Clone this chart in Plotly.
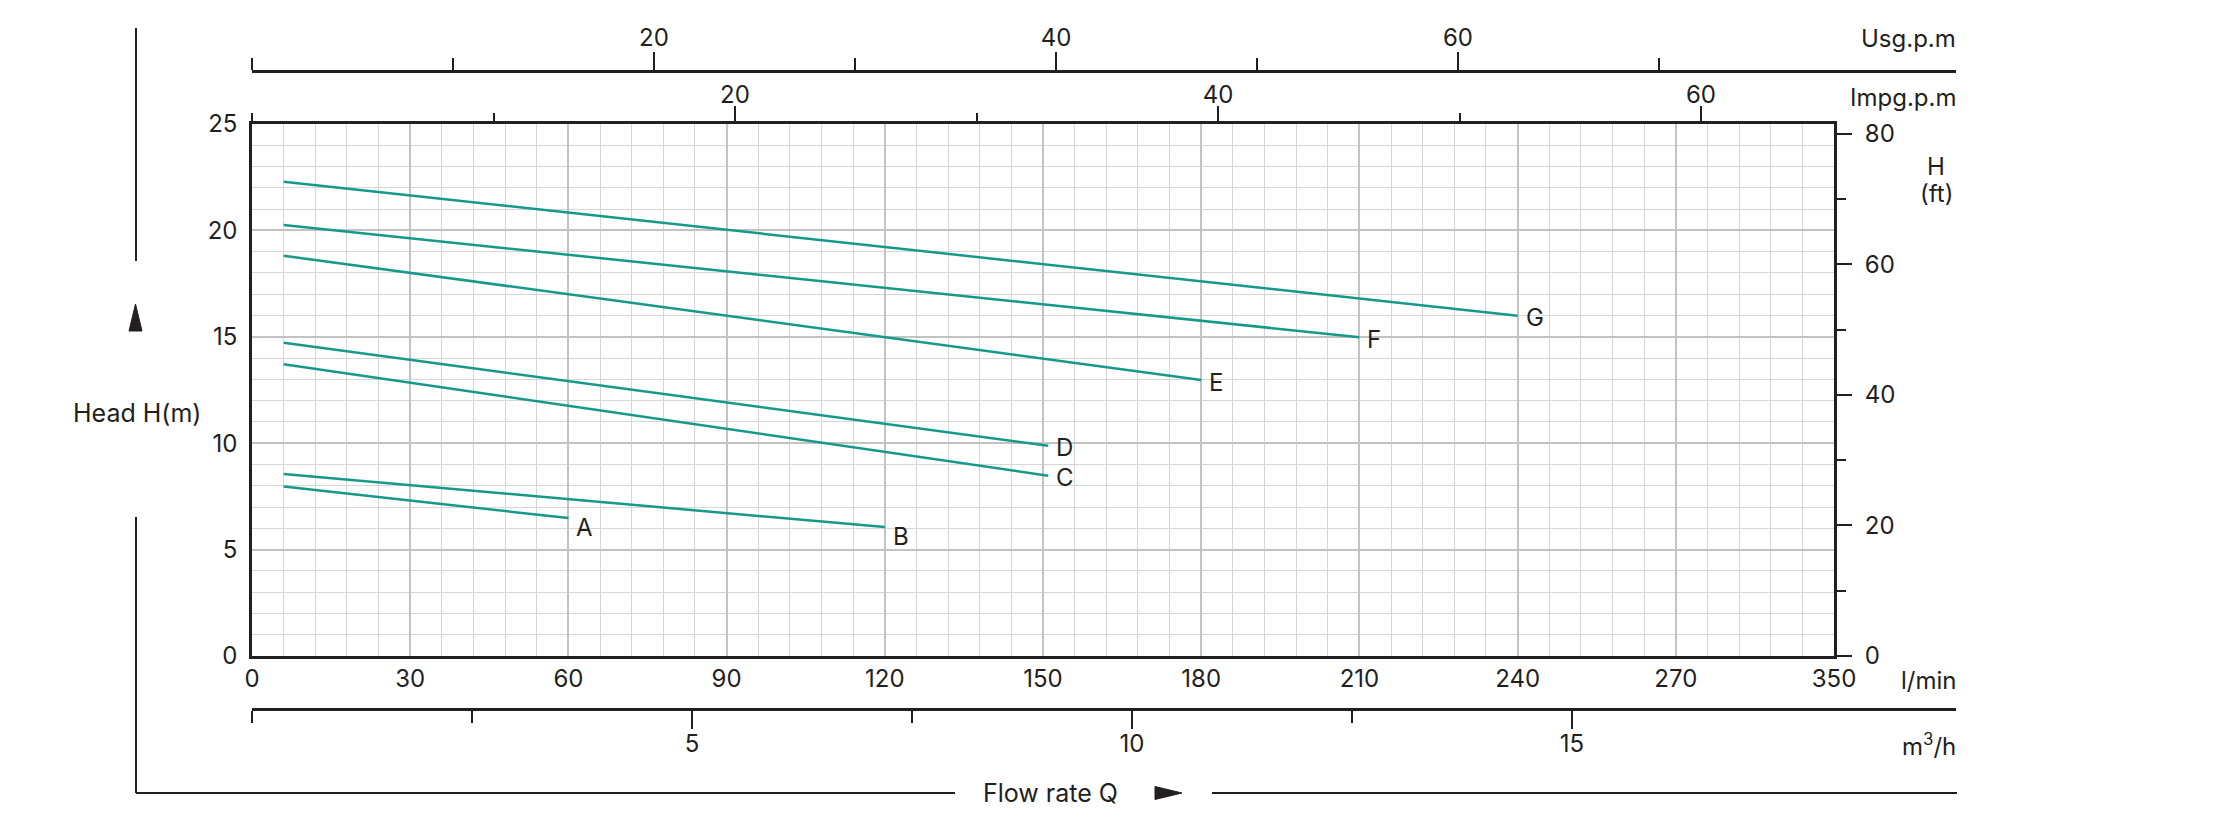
import plotly.graph_objects as go

# ---------------- data ----------------
curve_names = ["A", "B", "C", "D", "E", "F", "G"]
flow_lmin = [
    [6, 60],
    [6, 120],
    [6, 151],
    [6, 151],
    [6, 180],
    [6, 210],
    [6, 240],
]
head_m = [
    [7.97, 6.48],
    [8.55, 6.06],
    [13.71, 8.47],
    [14.72, 9.88],
    [18.81, 12.97],
    [20.25, 14.98],
    [22.29, 15.99],
]

lmin_tickvals = [0, 30, 60, 90, 120, 150, 180, 210, 240, 270, 300]
lmin_ticktext = ["0", "30", "60", "90", "120", "150", "180", "210", "240", "270", "350"]
head_tickvals = [0, 5, 10, 15, 20, 25]
ft_major = [0, 20, 40, 60, 80]
ft_minor = [10, 30, 50, 70]
impg_major = [20, 40, 60]
impg_minor = [0, 10, 30, 50]
usg_major = [20, 40, 60]
usg_minor = [0, 10, 30, 50, 70]
m3h_major = [5, 10, 15]
m3h_minor = [0, 2.5, 7.5, 12.5]

# label vertical offsets (style, px)
label_dy = [-9, -9, -2, -2, -2, -2, -2]

# ---------------- layout geometry (window pixels) ----------------
OFF = 8                      # page body margin
W, H = 2231 - OFF, 823 - OFF
PX0, PX1 = 252, 1956         # paper left/right (window px)
PY0, PY1 = 71, 709           # paper top/bottom (window px)
PLOT_R = 1834
PLOT_T, PLOT_B = 124, 656


def px(x):
    return (x - PX0) / (PX1 - PX0)


def py(y):
    return (PY1 - y) / (PY1 - PY0)


BLACK = "#231f20"
TEAL = "#15998b"
GRID_MAJ = "#c3c3c3"
GRID_MIN = "#d6d6d6"
FONT = "Inter, Liberation Sans, Arial, sans-serif"
FS = 24

fig = go.Figure()

for name, xs, ys, dy in zip(curve_names, flow_lmin, head_m, label_dy):
    fig.add_trace(go.Scatter(x=xs, y=ys, mode="lines",
                             line=dict(color=TEAL, width=2.5),
                             name=name, showlegend=False, hoverinfo="skip"))
    fig.add_annotation(x=xs[-1], y=ys[-1], xref="x", yref="y", text=name,
                       showarrow=False, xanchor="left", yanchor="middle",
                       xshift=6, yshift=dy, font=dict(size=FS, color=BLACK, family=FONT))

# invisible traces to activate the secondary axes
inv = dict(mode="markers", marker=dict(opacity=0), showlegend=False, hoverinfo="skip")
fig.add_trace(go.Scatter(x=[0], y=[0], xaxis="x2", yaxis="y2", **inv))
fig.add_trace(go.Scatter(x=[0], y=[0], xaxis="x3", yaxis="y3", **inv))
fig.add_trace(go.Scatter(x=[0], y=[0], xaxis="x4", yaxis="y3", **inv))

dom_x = [0, px(PLOT_R)]
dom_y = [py(PLOT_B), py(PLOT_T)]
tickfont = dict(size=FS, color=BLACK, family=FONT)


def minor_ticks(vals, length):
    return dict(tickmode="array", tickvals=vals, ticks="outside",
                ticklen=length, tickwidth=2, tickcolor=BLACK, showgrid=False)


fig.update_layout(
    width=W, height=H,
    margin=dict(l=PX0 - OFF, r=W - (PX1 - OFF), t=PY0 - OFF, b=H - (PY1 - OFF), pad=0),
    paper_bgcolor="white", plot_bgcolor="rgba(0,0,0,0)",
    font=dict(family=FONT, color=BLACK, size=FS),
    xaxis=dict(domain=dom_x, anchor="y", range=[0, 300],
               tickmode="array", tickvals=lmin_tickvals, ticktext=lmin_ticktext,
               ticks="", ticklabelstandoff=-1, tickfont=tickfont,
               showgrid=True, gridcolor=GRID_MAJ, gridwidth=2,
               minor=dict(dtick=6, tick0=0, showgrid=True, gridcolor=GRID_MIN, gridwidth=1),
               showline=True, linecolor=BLACK, linewidth=2.5, mirror=True, zeroline=False),
    yaxis=dict(domain=dom_y, anchor="x", range=[0, 25],
               tickmode="array", tickvals=head_tickvals,
               ticks="", ticklabelstandoff=7, tickfont=tickfont,
               showgrid=True, gridcolor=GRID_MAJ, gridwidth=2,
               minor=dict(dtick=1, tick0=0, showgrid=True, gridcolor=GRID_MIN, gridwidth=1),
               showline=True, linecolor=BLACK, linewidth=2.5, mirror=True, zeroline=False),
    # Impg.p.m (top of plot)
    xaxis2=dict(domain=dom_x, anchor="free", position=dom_y[1], side="top",
                range=[0, (PLOT_R - PX0) / 24.15],
                tickmode="array", tickvals=impg_major, ticks="outside",
                ticklen=18, tickwidth=2, tickcolor=BLACK, tickfont=tickfont,
                ticklabelstandoff=-7,
                minor=minor_ticks(impg_minor, 11),
                showgrid=False, showline=False, zeroline=False),
    # H (ft) right axis
    yaxis2=dict(domain=dom_y, anchor="free", position=dom_x[1], side="right",
                range=[0, 81.47],
                tickmode="array", tickvals=ft_major, ticks="outside",
                ticklen=17, tickwidth=2, tickcolor=BLACK, tickfont=tickfont,
                ticklabelstandoff=8,
                minor=minor_ticks(ft_minor, 11),
                showgrid=False, showline=False, zeroline=False),
    # Usg.p.m
    xaxis3=dict(domain=[0, 1], anchor="free", position=1, side="top",
                range=[0, (PX1 - PX0) / 20.1],
                tickmode="array", tickvals=usg_major, ticks="outside",
                ticklen=18, tickwidth=2, tickcolor=BLACK, tickfont=tickfont,
                ticklabelstandoff=-3,
                minor=minor_ticks(usg_minor, 12),
                showgrid=False, showline=True, linecolor=BLACK, linewidth=2.5, zeroline=False),
    # m3/h
    xaxis4=dict(domain=[0, 1], anchor="free", position=0, side="bottom",
                range=[0, (PX1 - PX0) / 88.0],
                tickmode="array", tickvals=m3h_major, ticks="outside",
                ticklen=18, tickwidth=2, tickcolor=BLACK, tickfont=tickfont,
                ticklabelstandoff=-6,
                minor=minor_ticks(m3h_minor, 12),
                showgrid=False, showline=True, linecolor=BLACK, linewidth=2.5, zeroline=False),
    yaxis3=dict(domain=dom_y, anchor="free", position=0, range=[0, 1], visible=False,
                showgrid=False, zeroline=False),
)


# unit labels
def txt(x, y, s, anchor="right", size=FS):
    fig.add_annotation(x=px(x), y=py(y), xref="paper", yref="paper", text=s,
                       showarrow=False, xanchor=anchor, yanchor="middle",
                       font=dict(size=size, color=BLACK, family=FONT))


txt(1958, 38, "Usg.p.m")
txt(1958, 97, "Impg.p.m")
txt(1958, 680, "l/min")
txt(1958, 745, "m<sup>3</sup>/h")
txt(1936, 166, "H", "center")
txt(1936, 194, "(ft)", "center")
txt(137, 413, "Head H(m)", "center", 25)
txt(1050, 793, "Flow rate Q", "center", 25)

# frame lines and arrows
line = dict(color=BLACK, width=2)
for (x0, y0, x1, y1) in [(136, 28, 136, 261), (136, 517, 136, 793),
                         (136, 793, 955, 793), (1212, 793, 1957, 793)]:
    fig.add_shape(type="line", xref="paper", yref="paper",
                  x0=px(x0), y0=py(y0), x1=px(x1), y1=py(y1), line=line)

tri_up = f"M {px(135.5)},{py(304)} L {px(129)},{py(331)} L {px(142)},{py(331)} Z"
tri_right = f"M {px(1182)},{py(793)} L {px(1155)},{py(786.5)} L {px(1155)},{py(799.5)} Z"
for p in (tri_up, tri_right):
    fig.add_shape(type="path", xref="paper", yref="paper", path=p,
                  fillcolor=BLACK, line=dict(color=BLACK, width=1))

fig.write_html("out.html")
